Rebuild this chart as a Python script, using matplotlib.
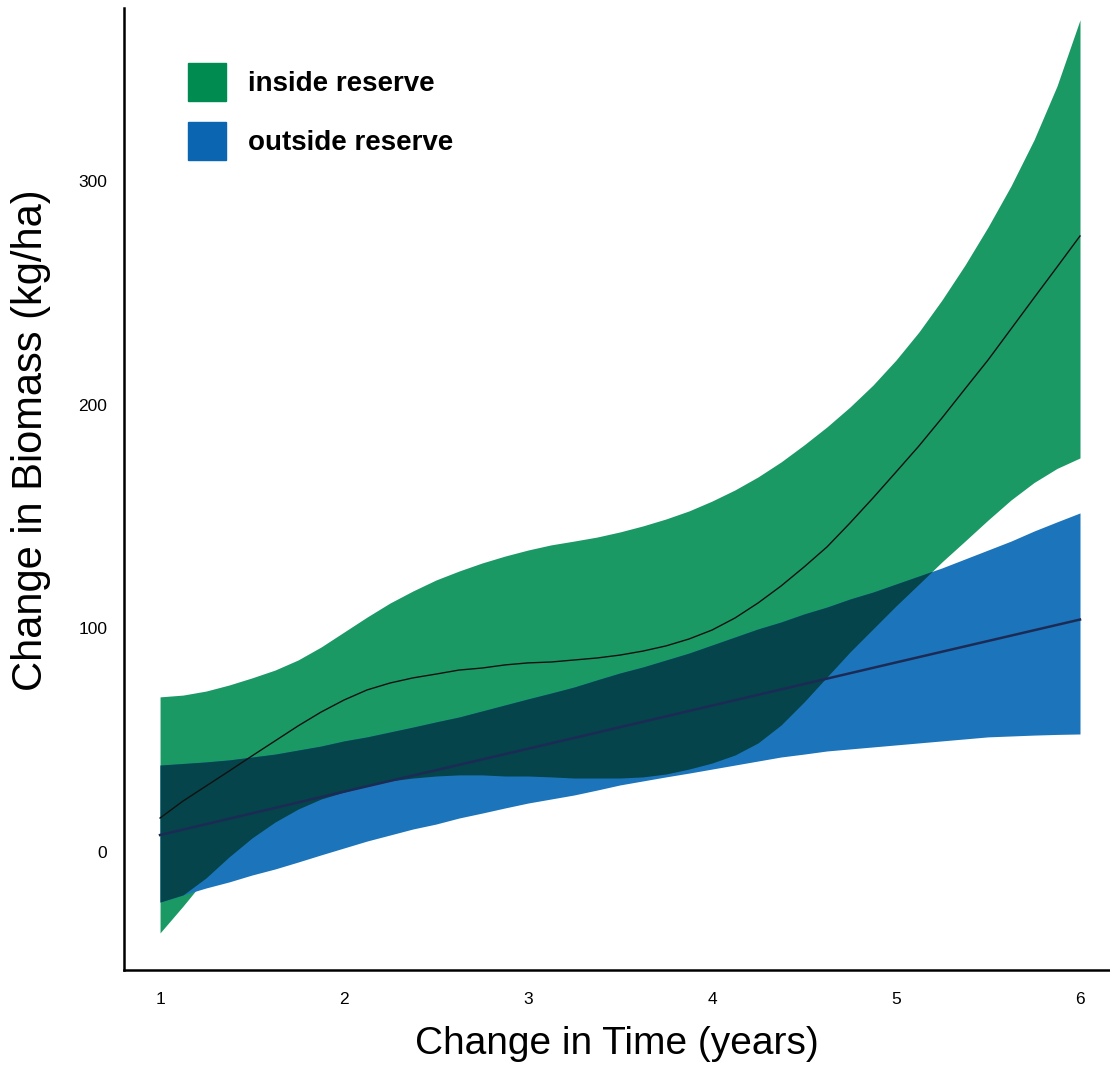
import matplotlib
matplotlib.use('Agg')
import matplotlib.pyplot as plt
from matplotlib.patches import Patch
import numpy as np

# values (every 1/8 year)
years = [1.0, 1.125, 1.25, 1.375, 1.5, 1.625, 1.75, 1.875, 2.0, 2.125, 2.25, 2.375, 2.5, 2.625,
         2.75, 2.875, 3.0, 3.125, 3.25, 3.375, 3.5, 3.625, 3.75, 3.875, 4.0, 4.125, 4.25, 4.375,
         4.5, 4.625, 4.75, 4.875, 5.0, 5.125, 5.25, 5.375, 5.5, 5.625, 5.75, 5.875, 6.0]

inside_upper = [69.4, 70.2, 72.0, 74.7, 77.9, 81.4, 85.9, 91.7, 98.4, 105.1, 111.4, 116.8, 121.7, 125.7,
                129.3, 132.4, 135.1, 137.4, 139.1, 140.9, 143.2, 145.9, 149.0, 152.6, 157.0, 162.0, 167.8, 174.5,
                182.1, 190.2, 199.1, 208.9, 220.1, 232.7, 247.0, 262.6, 279.6, 298.0, 318.6, 342.7, 372.3]
inside_mean = [15.2, 22.8, 29.5, 36.2, 43.0, 49.7, 56.4, 62.6, 68.0, 72.5, 75.6, 77.9, 79.6, 81.4,
               82.3, 83.7, 84.6, 85.0, 85.9, 86.8, 88.1, 89.9, 92.2, 95.3, 99.3, 104.7, 111.4, 119.0,
               127.5, 136.5, 147.2, 158.4, 170.0, 181.7, 194.2, 207.2, 220.1, 234.0, 247.9, 261.7, 275.6]
inside_lower = [-36.2, -24.2, -11.6, -2.2, 6.3, 13.4, 19.2, 23.7, 26.8, 29.5, 31.8, 33.1, 34.0, 34.5,
                34.5, 34.0, 34.0, 33.6, 33.1, 33.1, 33.1, 33.6, 34.9, 37.1, 39.8, 43.4, 48.8, 56.8,
                67.1, 78.3, 89.5, 99.8, 110.1, 119.9, 129.8, 139.1, 148.5, 157.5, 165.3, 171.6, 176.3]

outside_upper = [38.9, 39.6, 40.3, 41.2, 42.5, 43.8, 45.6, 47.4, 49.7, 51.5, 53.7, 55.9, 58.2, 60.4,
                 63.1, 65.8, 68.5, 71.1, 73.8, 77.0, 80.1, 82.8, 85.9, 89.0, 92.6, 96.2, 99.8, 102.9,
                 106.5, 109.6, 113.2, 116.3, 119.9, 123.5, 127.1, 131.1, 135.1, 139.1, 143.6, 147.7, 151.7]
outside_lower = [-22.4, -19.2, -16.1, -13.4, -10.3, -7.6, -4.5, -1.3, 1.8, 4.9, 7.6, 10.3, 12.5, 15.2,
                 17.4, 19.7, 21.9, 23.7, 25.5, 27.7, 30.0, 31.8, 33.6, 35.3, 37.1, 38.9, 40.7, 42.5,
                 43.8, 45.2, 46.1, 47.0, 47.9, 48.8, 49.7, 50.6, 51.5, 51.9, 52.3, 52.6, 52.8]

mean_years = [1, 2, 3, 4, 5, 6]
outside_mean = [7.6, 27.0, 46.2, 65.5, 84.8, 104.0]

x_ticks = [1, 2, 3, 4, 5, 6]
y_ticks = [0, 100, 200, 300]

green = '#1a9965'
blue = '#1c75bb'
dark = '#04444a'

plt.rcParams['font.family'] = ['Liberation Sans', 'DejaVu Sans']

fig = plt.figure(figsize=(11.10, 10.67), dpi=100)
ax = fig.add_axes([0.1117, 0.0909, 0.8883, 0.9016])

x = np.array(years)
gu, gl = np.array(inside_upper), np.array(inside_lower)
bu, bl = np.array(outside_upper), np.array(outside_lower)

ax.fill_between(x, gl, gu, color=green, linewidth=0)
ax.fill_between(x, bl, bu, color=blue, linewidth=0)
# where the two bands overlap
top = np.minimum(gu, bu)
bottom = np.maximum(gl, bl)
ax.fill_between(x, bottom, top, where=top >= bottom, interpolate=True, color=dark, linewidth=0)

ax.plot(mean_years, outside_mean, color='#1c2b55', linewidth=1.8)
ax.plot(x, inside_mean, color='#111111', linewidth=1.0)

ax.set_xlim(0.804, 6.163)
ax.set_ylim(-52.8, 377.6)
ax.set_xticks(x_ticks)
ax.set_yticks(y_ticks)
ax.tick_params(length=0, labelsize=12.5)
ax.tick_params(axis='x', pad=16)
ax.tick_params(axis='y', pad=12)

for side in ['top', 'right']:
    ax.spines[side].set_visible(False)
for side in ['left', 'bottom']:
    ax.spines[side].set_linewidth(1.8)

ax.set_xlabel('Change in Time (years)', fontsize=28)
ax.set_ylabel('Change in Biomass (kg/ha)', fontsize=30)
ax.xaxis.set_label_coords(0.5, -0.058)
ax.xaxis.label.set_va('top')
ax.yaxis.set_label_coords(-0.074, 0.551)

handles = [Patch(color='#008c50', label='inside reserve'),
           Patch(color='#0b65b1', label='outside reserve')]
ax.legend(handles=handles, loc='upper left', bbox_to_anchor=(0.0649, 0.9429), frameon=False,
          prop={'weight': 'bold', 'size': 20}, handlelength=1.37, handleheight=1.73,
          labelspacing=0.75, handletextpad=0.79, borderpad=0, borderaxespad=0)

fig.savefig('out.png', dpi=100)
